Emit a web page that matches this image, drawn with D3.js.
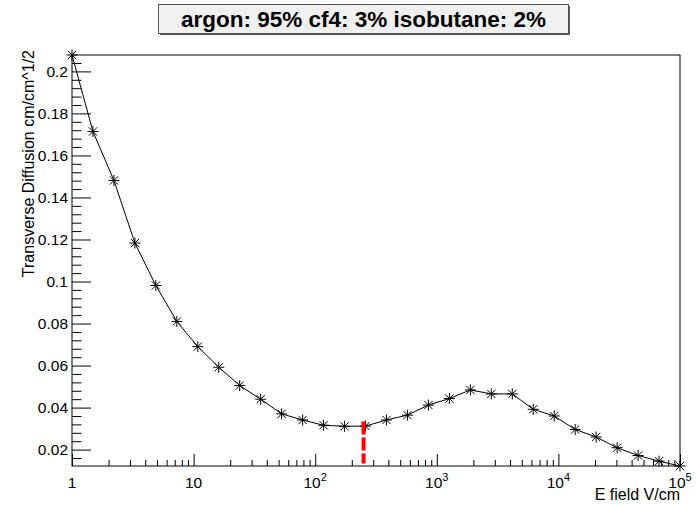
<!DOCTYPE html>
<html>
<head>
<meta charset="utf-8">
<script src="https://cdn.jsdelivr.net/npm/d3@7"></script>
<style>
  body { margin: 0; background: #fff; }
  text { font-family: "Liberation Sans", Arial, sans-serif; }
</style>
</head>
<body>
<div id="chart"></div>
<script>
// E field (V/cm) and transverse diffusion
const eField = [1, 1.487, 2.213, 3.291, 4.895, 7.281, 10.83, 16.10, 23.95, 35.62,
                52.98, 78.80, 117.2, 174.3, 259.3, 385.7, 573.7, 853.3, 1269, 1888,
                2808, 4176, 6211, 9239, 13741, 20438, 30399, 45214, 67251, 100000];
const diffusion = [0.2078, 0.1714, 0.1481, 0.1183, 0.0981, 0.0810, 0.0690, 0.0592, 0.0505, 0.0440,
                   0.0370, 0.0341, 0.0316, 0.0311, 0.0312, 0.0341, 0.0364, 0.0412, 0.0443, 0.0484,
                   0.0465, 0.0465, 0.0392, 0.0360, 0.0296, 0.0260, 0.0209, 0.0172, 0.0145, 0.0122];

// red dashed marker
const markerE = [250];
const markerRange = [0.0134, 0.0334];

const yMajor = [0.02, 0.04, 0.06, 0.08, 0.1, 0.12, 0.14, 0.16, 0.18, 0.2];
const yMinor = [0.016, 0.024, 0.028, 0.032, 0.036, 0.044, 0.048, 0.052, 0.056, 0.064, 0.068, 0.072, 0.076,
                0.084, 0.088, 0.092, 0.096, 0.104, 0.108, 0.112, 0.116, 0.124, 0.128, 0.132, 0.136,
                0.144, 0.148, 0.152, 0.156, 0.164, 0.168, 0.172, 0.176, 0.184, 0.188, 0.192, 0.196, 0.204];
const xMajor = [1, 10, 100, 1000, 10000, 100000];
const xLabelExp = [null, null, 2, 3, 4, 5];
const xMinorMult = [2, 3, 4, 5, 6, 7, 8, 9];

const titleText = "argon: 95% cf4: 3% isobutane: 2%";
const xTitle = "E field V/cm";
const yTitle = "Transverse Diffusion cm/cm^1/2";

const W = 696, H = 505;
const margin = {top: 55, right: 16, bottom: 39, left: 72},
    width = W - margin.left - margin.right,
    height = H - margin.top - margin.bottom;

const svg = d3.select("#chart")
    .append("svg")
    .attr("width", W)
    .attr("height", H);

const g = svg.append("g")
    .attr("transform", `translate(${margin.left}, ${margin.top})`);

const x = d3.scaleLog()
    .domain([1, 100000])
    .range([0, width]);

const y = d3.scaleLinear()
    .domain([0.0122, 0.2078])
    .range([height, 0]);

// minor x ticks
var xMinor = [];
xMajor.slice(0, -1).forEach(function(d) {
    xMinorMult.forEach(function(m) { xMinor.push(d * m); });
});

g.append("g")
    .attr("transform", `translate(0, ${height})`)
    .call(d3.axisBottom(x).tickValues(xMinor).tickSize(-6).tickSizeOuter(0).tickFormat(""))
    .call(a => a.select(".domain").remove());

g.append("g")
    .attr("transform", `translate(0, ${height})`)
    .call(d3.axisBottom(x).tickValues(xMajor).tickSize(-12).tickSizeOuter(0).tickFormat(""))
    .call(a => a.select(".domain").remove());

// x labels with superscripts
const xl = g.selectAll(".xlabel")
    .data(xMajor)
    .enter().append("text")
    .attr("class", "xlabel")
    .attr("x", d => x(d))
    .attr("y", height + 22)
    .attr("text-anchor", "middle")
    .attr("font-size", "15.5px")
    .attr("fill", "#000");

xl.each(function(d, i) {
    const t = d3.select(this);
    if (xLabelExp[i] == null) {
        t.text(d);
    } else {
        t.append("tspan").text("10");
        t.append("tspan")
            .attr("font-size", "11px")
            .attr("dy", "-7")
            .text(xLabelExp[i]);
    }
});

// y axis
g.append("g")
    .call(d3.axisLeft(y).tickValues(yMinor).tickSize(-9.5).tickSizeOuter(0).tickFormat(""))
    .call(a => a.select(".domain").remove());

g.append("g")
    .call(d3.axisLeft(y).tickValues(yMajor).tickSize(-19).tickSizeOuter(0).tickPadding(4)
        .tickFormat(d => String(d)))
    .call(a => a.select(".domain").remove())
    .call(a => a.selectAll("text").attr("font-size", "15.5px").attr("font-family", "Liberation Sans, Arial, sans-serif"));

// frame
g.append("rect")
    .attr("x", 0)
    .attr("y", 0)
    .attr("width", width)
    .attr("height", height)
    .attr("fill", "none")
    .attr("stroke", "#000")
    .attr("stroke-width", 1);

// curve
const line = d3.line()
    .x(d => x(d[0]))
    .y(d => y(d[1]));

const pts = eField.map((e, i) => [e, diffusion[i]]);

g.append("path")
    .datum(pts)
    .attr("d", line)
    .attr("fill", "none")
    .attr("stroke", "#000")
    .attr("stroke-width", 1);

// star markers
const r = 5.5;
const star = g.selectAll(".star")
    .data(pts)
    .enter().append("g")
    .attr("class", "star")
    .attr("transform", d => `translate(${x(d[0])}, ${y(d[1])})`);

star.append("path")
    .attr("d", `M${-r},0L${r},0M0,${-r}L0,${r}M${-r*0.75},${-r*0.75}L${r*0.75},${r*0.75}M${-r*0.75},${r*0.75}L${r*0.75},${-r*0.75}`)
    .attr("stroke", "#000")
    .attr("stroke-width", 1)
    .attr("fill", "none");

// red dashed line
g.selectAll(".marker")
    .data(markerE)
    .enter().append("line")
    .attr("class", "marker")
    .attr("x1", d => x(d))
    .attr("x2", d => x(d))
    .attr("y1", y(markerRange[1]))
    .attr("y2", y(markerRange[0]))
    .attr("stroke", "#f00")
    .attr("stroke-width", 4)
    .attr("stroke-dasharray", "13,3");

// axis titles
svg.append("text")
    .attr("x", margin.left + width)
    .attr("y", 500)
    .attr("text-anchor", "end")
    .attr("font-size", "16px")
    .text(xTitle);

svg.append("text")
    .attr("transform", `translate(34, ${margin.top - 5}) rotate(-90)`)
    .attr("text-anchor", "end")
    .attr("font-size", "16px")
    .text(yTitle);

// title box
svg.append("rect")
    .attr("x", 160).attr("y", 6)
    .attr("width", 410).attr("height", 29)
    .attr("fill", "#555");

svg.append("rect")
    .attr("x", 158.5).attr("y", 4.5)
    .attr("width", 410).attr("height", 29)
    .attr("fill", "#f0f0f0")
    .attr("stroke", "#555")
    .attr("stroke-width", 1);

svg.append("text")
    .attr("x", 363.5)
    .attr("y", 27)
    .attr("text-anchor", "middle")
    .attr("font-size", "22.5px")
    .attr("font-weight", "bold")
    .text(titleText);
</script>
</body>
</html>
